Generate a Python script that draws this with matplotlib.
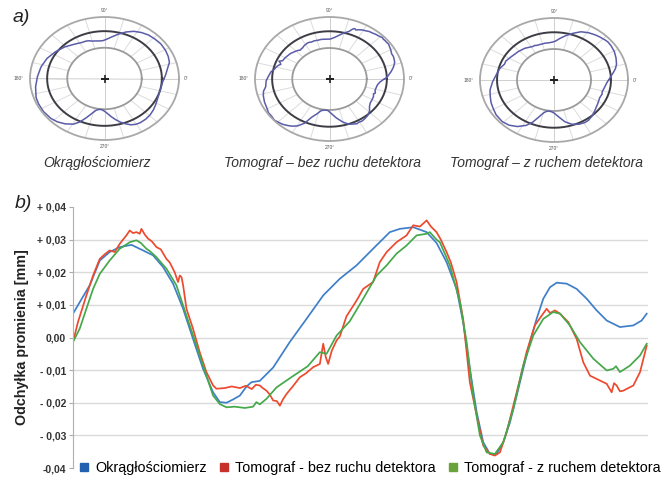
import numpy as np
import matplotlib
matplotlib.use('Agg')
import matplotlib.pyplot as plt
from matplotlib.lines import Line2D

plt.rcParams['font.family'] = ['Liberation Sans', 'DejaVu Sans']

# kąt [deg] i odchyłka promienia [mm]
blue_deg = [0, 4.2, 10.5, 16.8, 23.0, 29.3, 36.7, 43.9, 50.2, 56.5, 62.8, 69.1, 75.3,
            81.6, 87.9, 92.1, 96.3, 100.4, 104.7, 108.9, 112.0, 117.2, 125.6, 136.0,
            146.5, 157.0, 167.4, 177.9, 188.3, 198.8, 205.1, 213.5, 221.9, 228.1,
            234.4, 240.7, 244.8, 249.0, 253.3, 257.4, 261.6, 265.8, 270.0, 274.2,
            278.4, 282.5, 286.7, 290.9, 295.1, 299.3, 303.5, 309.8, 316.0, 322.3,
            328.6, 334.9, 343.2, 351.6, 356.8, 360.0]
blue_dev = [0.0073, 0.0108, 0.016, 0.0236, 0.0262, 0.0277, 0.0284, 0.0267, 0.0252,
            0.0216, 0.0165, 0.0088, -0.0004, -0.0096, -0.0168, -0.0198, -0.0200,
            -0.0190, -0.0178, -0.0150, -0.0137, -0.0133, -0.0092, -0.0014, 0.0057,
            0.0129, 0.018, 0.0221, 0.0272, 0.0323, 0.0333, 0.0338, 0.0323, 0.0290,
            0.0231, 0.0149, 0.0047, -0.0096, -0.0229, -0.0321, -0.0357, -0.0357,
            -0.0321, -0.026, -0.0178, -0.0096, -0.0014, 0.0057, 0.0119, 0.0154,
            0.0168, 0.0165, 0.0149, 0.0119, 0.0083, 0.0052, 0.0032, 0.0037, 0.0052,
            0.0073]

red_deg = [0, 3.1, 8.4, 12.6, 16.8, 19.9, 23.0, 26.2, 29.3, 33.5, 35.6, 37.7, 39.8,
           41.9, 42.9, 45.1, 47.1, 49.4, 52.4, 55.1, 58.6, 60.7, 63.8, 65.9, 67.0,
           68.1, 69.1, 71.2, 75.3, 79.5, 83.7, 87.9, 90.0, 95.2, 99.6, 104.7, 108.4,
           112.2, 114.7, 117.2, 119.1, 121.4, 123.5, 125.6, 127.9, 129.8, 131.7,
           134.0, 137.9, 142.3, 146.1, 150.7, 154.9, 157.0, 158.6, 160.1, 162.4,
           165.4, 167.4, 171.6, 177.9, 182.1, 188.3, 192.5, 196.8, 203.0, 209.3,
           213.5, 217.7, 221.9, 224.6, 228.1, 230.8, 234.4, 237.1, 240.7, 244.8,
           249.0, 253.3, 257.4, 261.6, 264.7, 267.9, 272.1, 278.4, 284.6, 289.8,
           294.1, 297.2, 299.3, 302.4, 305.6, 310.8, 316.0, 320.2, 324.4, 330.7,
           334.9, 338.0, 339.5, 341.1, 343.2, 345.3, 351.6, 355.8, 360.0]
red_dev = [-0.0014, 0.0047, 0.0129, 0.019, 0.0241, 0.0255, 0.0267, 0.0262, 0.0287,
           0.0313, 0.0328, 0.0320, 0.0323, 0.0318, 0.0333, 0.0315, 0.0303, 0.0295,
           0.0277, 0.0270, 0.0241, 0.0230, 0.0200, 0.0170, 0.0190, 0.0185, 0.0160,
           0.0088, 0.0027, -0.0045, -0.0106, -0.0147, -0.0157, -0.0155, -0.0150,
           -0.0155, -0.0148, -0.0158, -0.0145, -0.0147, -0.0155, -0.0163, -0.0175,
           -0.0193, -0.0195, -0.0209, -0.0190, -0.0173, -0.0150, -0.0122, -0.0110,
           -0.0091, -0.0081, -0.0019, -0.0060, -0.0081, -0.0040, -0.0009, 0.0003,
           0.0065, 0.0113, 0.0149, 0.0170, 0.0231, 0.0262, 0.0292, 0.0313, 0.0344,
           0.0340, 0.0359, 0.0340, 0.0323, 0.0300, 0.0262, 0.0230, 0.0170, 0.0057,
           -0.0137, -0.0239, -0.0331, -0.0357, -0.0362, -0.0352, -0.0290, -0.0168,
           -0.0045, 0.0037, 0.0067, 0.0088, 0.0075, 0.0083, 0.0073, 0.0047, -0.0004,
           -0.0076, -0.0117, -0.0132, -0.0142, -0.0168, -0.0140, -0.0147, -0.0165,
           -0.0163, -0.0147, -0.0106, -0.0025]

green_deg = [0, 4.2, 8.4, 12.6, 16.8, 23.0, 29.3, 35.6, 39.8, 42.5, 46.1, 48.2, 52.4,
             58.6, 64.9, 71.2, 77.5, 83.7, 87.9, 92.1, 96.3, 101.5, 107.8, 113.0,
             115.1, 117.2, 121.4, 127.7, 136.0, 147.3, 154.9, 159.1, 165.4, 173.7,
             182.1, 190.5, 196.8, 203.0, 209.3, 215.6, 221.9, 223.9, 228.1, 230.2,
             236.5, 242.8, 247.0, 251.1, 255.3, 259.5, 264.7, 270.0, 276.3, 282.5,
             288.8, 295.1, 301.3, 305.6, 311.8, 318.1, 326.5, 334.9, 339.0, 340.7,
             343.2, 349.5, 355.8, 360.0]
green_dev = [-0.0014, 0.0027, 0.0088, 0.0149, 0.0195, 0.0236, 0.0272, 0.0292, 0.0298,
             0.0290, 0.0272, 0.0265, 0.0246, 0.0211, 0.0160, 0.0067, -0.0025, -0.0117,
             -0.0178, -0.0204, -0.0214, -0.0212, -0.0216, -0.0212, -0.0198, -0.0205,
             -0.0188, -0.0153, -0.0125, -0.0088, -0.0045, -0.0050, 0.0006, 0.0050,
             0.0119, 0.0190, 0.0221, 0.0257, 0.0282, 0.0313, 0.0318, 0.0323, 0.0300,
             0.0292, 0.0221, 0.0108, -0.0014, -0.0178, -0.0300, -0.0352, -0.0357,
             -0.0321, -0.0219, -0.0086, 0.0006, 0.0057, 0.0078, 0.0073, 0.0037,
             -0.0014, -0.0065, -0.0101, -0.0096, -0.0088, -0.0106, -0.0086, -0.0055,
             -0.0019]

series_names = ['Okrągłościomierz', 'Tomograf - bez ruchu detektora', 'Tomograf - z ruchem detektora']
polar_titles = ['Okrągłościomierz', 'Tomograf – bez ruchu detektora', 'Tomograf – z ruchem detektora']
yticks = [-0.04, -0.03, -0.02, -0.01, 0.0, 0.01, 0.02, 0.03, 0.04]
ytick_labels = ['-0,04', '- 0,03', '- 0,02', '- 0,01', '0,00', '+ 0,01', '+ 0,02', '+ 0,03', '+ 0,04']

line_colors = ['#3f7fc8', '#ec4a2e', '#45a84a']
legend_colors = ['#2261b0', '#c8302c', '#6aa23c']

W, H = 669, 479
fig = plt.figure(figsize=(W / 100, H / 100), dpi=100)


def px_box(x0, y0, x1, y1):
    return [x0 / W, 1 - y1 / H, (x1 - x0) / W, (y1 - y0) / H]


# a) wykresy biegunowe
polar_boxes = [(30, 17, 179, 140), (255, 17, 404, 141), (480, 18, 628, 142)]
polar_data = [(blue_deg, blue_dev), (red_deg, red_dev), (green_deg, green_dev)]
full = np.linspace(0, 2 * np.pi, 361)

for box, (deg, dev), title in zip(polar_boxes, polar_data, polar_titles):
    ax = fig.add_axes(px_box(*box), projection='polar')
    ax.set_aspect('auto')
    ax.set_ylim(0, 1)
    ax.set_xticks([])
    ax.set_yticks([])
    ax.grid(False)
    ax.spines['polar'].set_color('#a8a8a8')
    ax.spines['polar'].set_linewidth(1.3)
    for th in np.deg2rad(np.arange(0, 360, 15)):
        ax.plot([th, th], [0.5, 1.0], color='#dcdcdc', lw=0.7)
    ax.plot([0, np.pi], [1, 1], color='#d0d0d0', lw=0.7)
    ax.plot([np.pi / 2, 3 * np.pi / 2], [1, 1], color='#d0d0d0', lw=0.7)
    ax.plot(full, np.full_like(full, 0.5), color='#9a9a9a', lw=1.3)
    ax.plot(full, np.full_like(full, 0.77), color='#3c3c44', lw=1.4)
    ax.plot(np.deg2rad(deg), 0.75 + 6.8 * np.array(dev), color='#5a5ca8', lw=1.1)
    ax.plot([0], [0], marker='+', color='#222222', ms=6, mew=1.2)
    ax.text(np.pi / 2, 1.07, '90°', fontsize=3.5, color='#555555', ha='center', va='bottom')
    ax.text(np.pi, 1.08, '180°', fontsize=3.5, color='#555555', ha='right', va='center')
    ax.text(0, 1.06, '0°', fontsize=3.5, color='#555555', ha='left', va='center')
    ax.text(3 * np.pi / 2, 1.07, '270°', fontsize=3.5, color='#555555', ha='center', va='top')
    cx = (box[0] + box[2]) / 2
    fig.text((cx - 7) / W, 1 - 163 / H, title, fontsize=10, style='italic',
             color='#333333', ha='center', va='center')

fig.text(13 / W, 1 - 18 / H, 'a)', fontsize=14, style='italic', color='#222222', va='center')
fig.text(15 / W, 1 - 204 / H, 'b)', fontsize=14, style='italic', color='#222222', va='center')

# b) odchyłka promienia
ax2 = fig.add_axes(px_box(73, 207, 648, 468))
for deg, dev, c in zip([blue_deg, red_deg, green_deg], [blue_dev, red_dev, green_dev], line_colors):
    ax2.plot(deg, dev, color=c, lw=1.25)
ax2.set_xlim(0, 360.8)
ax2.set_ylim(-0.04, 0.04)
ax2.set_xticks([])
ax2.set_yticks(yticks)
ax2.set_yticklabels(ytick_labels, fontsize=7.5, fontweight='bold', color='#333333')
ax2.tick_params(axis='y', length=3, color='#aaaaaa', pad=2)
ax2.grid(axis='y', color='#dadada', lw=1)
gl = ax2.get_ygridlines()
gl[0].set_visible(False)
gl[-1].set_visible(False)
for s in ['top', 'right', 'bottom']:
    ax2.spines[s].set_visible(False)
ax2.spines['left'].set_color('#b0b0b0')
ax2.set_ylabel('Odchyłka promienia [mm]', fontsize=10.3, fontweight='bold', color='#222222')
ax2.yaxis.set_label_coords(-0.076, 0.5)

handles = [Line2D([], [], ls='none', marker='s', ms=6, color=c) for c in legend_colors]
fig.legend(handles, series_names, loc='center left', bbox_to_anchor=(80 / W, 1 - 468 / H),
           ncol=3, frameon=False, fontsize=10.4, handlelength=0.6, handletextpad=0.45,
           columnspacing=0.9, borderpad=0, borderaxespad=0)

fig.savefig('out.png', dpi=100)
